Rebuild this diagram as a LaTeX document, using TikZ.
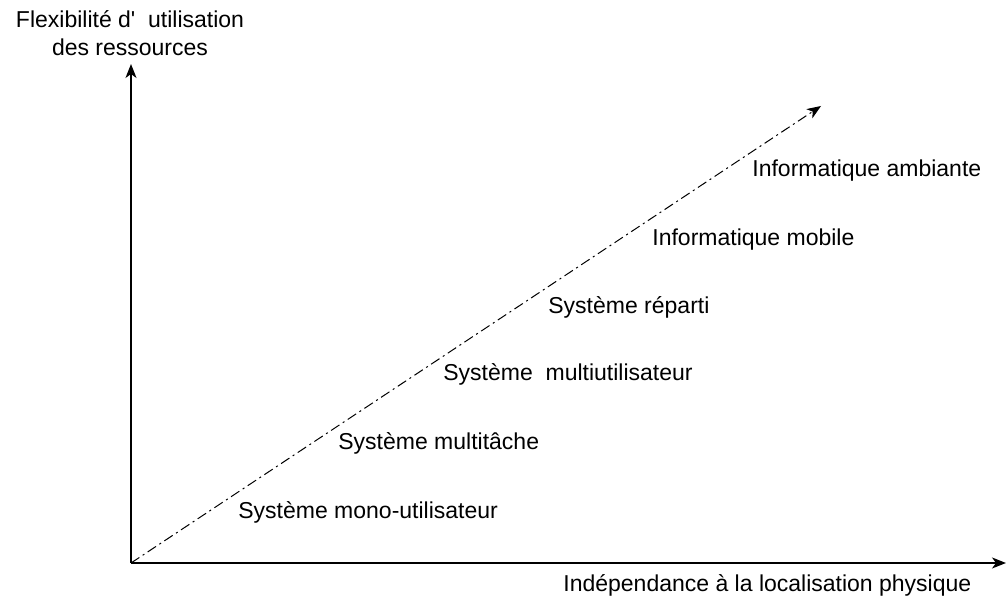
\documentclass[tikz,border=0pt]{standalone}
\usepackage{fontspec}
\setmainfont{Liberation Sans}
\usetikzlibrary{arrows.meta}
\begin{document}
\begin{tikzpicture}[x=0.5pt,y=-0.5pt,
  lbl/.style={font=\fontsize{11.5}{14}\selectfont, inner sep=0pt, anchor=west},
  axis/.style={line width=0.7pt, -{Stealth[length=7pt,width=5.5pt,inset=2pt]}},
  diag/.style={line width=0.5pt, dash pattern=on 5pt off 2pt on 1pt off 2pt, -{Stealth[length=7pt,width=5.5pt,inset=2pt]}}]
\useasboundingbox (0,0) rectangle (1007,597);
\coordinate (O) at (131,563);
\coordinate (Y) at (131,64);
\coordinate (X) at (1006,563);
\coordinate (D) at (821,106);
\draw[axis] (O) -- (Y);
\draw[axis] (O) -- (X);
\draw[diag] (O) -- (D);
\node[font=\fontsize{11.5}{14}\selectfont, align=center, inner sep=0pt] (ylab) at (130,33) {Flexibilité d\textquotesingle\ \ utilisation\\des ressources};
\node[lbl] (xlab) at (563,585) {Indépendance à la localisation physique};
\node[lbl] (l1) at (238,512) {Système mono-utilisateur};
\node[lbl] (l2) at (338,443) {Système multitâche};
\node[lbl] (l3) at (443,374) {Système\ \ multiutilisateur};
\node[lbl] (l4) at (548,307) {Système réparti};
\node[lbl] (l5) at (652,240) {Informatique mobile};
\node[lbl] (l6) at (752,171) {Informatique ambiante};
\end{tikzpicture}
\end{document}
